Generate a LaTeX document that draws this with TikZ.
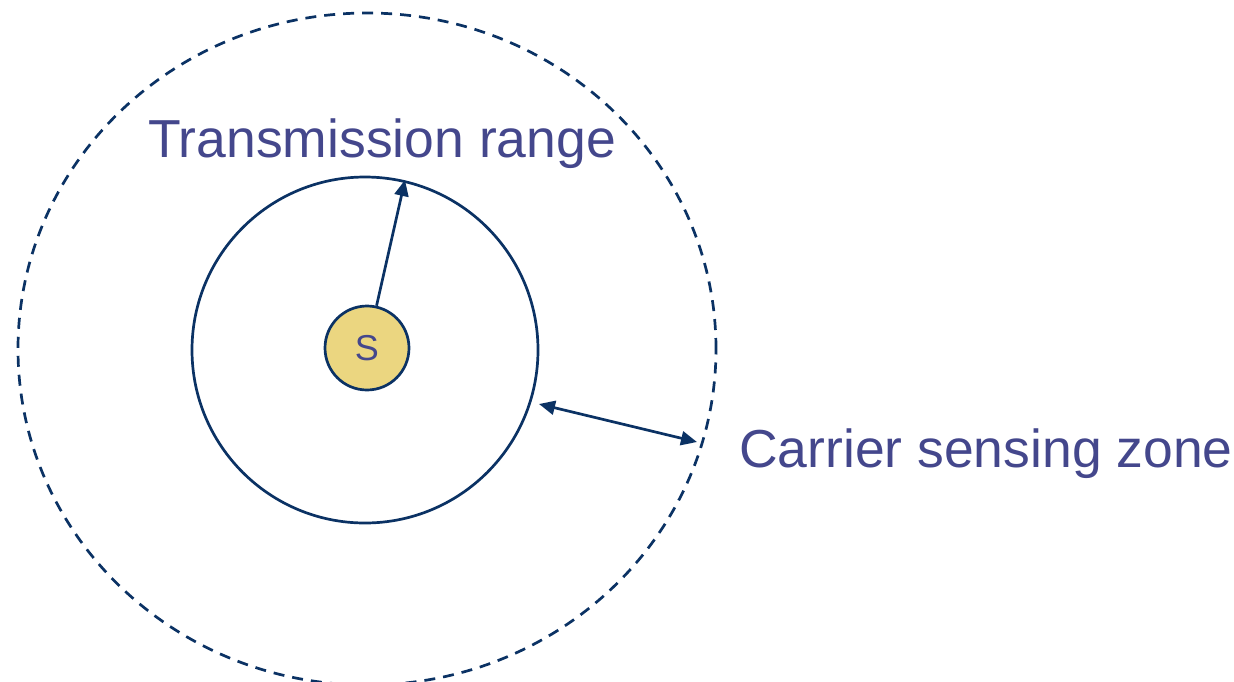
\documentclass[tikz,border=0pt]{standalone}
\usepackage{fontspec}
\setmainfont{Liberation Sans}
\usetikzlibrary{arrows.meta,shapes.geometric}
\definecolor{navy}{HTML}{0B3264}
\definecolor{txt}{HTML}{44478C}
\definecolor{sfill}{HTML}{EBD680}
\begin{document}
\begin{tikzpicture}[x=1pt,y=-1pt,
  line/.style={draw=navy,line width=2.7pt},
  tip/.style={-{Triangle[length=16pt,width=14pt]}},
  lbl/.style={text=txt,font=\fontsize{53.5}{60}\selectfont,inner sep=0pt}]
\useasboundingbox (0,0) rectangle (1234,681);
\clip (0,0) rectangle (1234,681);
\node[ellipse,draw=navy,line width=2.7pt,dash pattern=on 11pt off 8pt,minimum width=698pt,minimum height=672pt,inner sep=0pt] (outer) at (367,349) {};
\node[circle,line,minimum size=346pt,inner sep=0pt] (inner) at (365,350) {};
\node[circle,line,fill=sfill,minimum size=84pt,inner sep=0pt,text=txt,font=\fontsize{36}{40}\selectfont] (S) at (367,348) {S};
\coordinate (t1) at (405,180);
\draw[line,tip] (S) -- (t1);
\coordinate (a1) at (539,404);
\coordinate (a2) at (697,442);
\draw[line,{Triangle[length=16pt,width=14pt]}-{Triangle[length=16pt,width=14pt]}] (a1) -- (a2);
\node[lbl,anchor=base west] (tr) at (148,157) {Transmission range};
\node[lbl,anchor=base west] (cs) at (739,467) {Carrier sensing zone};
\end{tikzpicture}
\end{document}
